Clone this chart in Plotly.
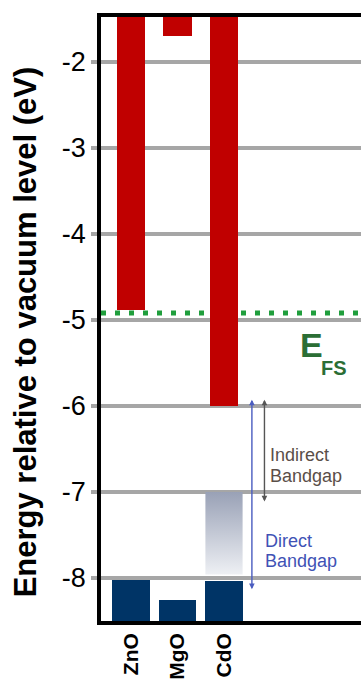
import plotly.graph_objects as go

# Band edges of the three oxides, energies relative to the vacuum level (eV)
materials = ["ZnO", "MgO", "CdO"]
cbm = [-4.88, -1.70, -6.00]          # conduction band minimum
vbm = [-8.02, -8.26, -8.04]          # valence band maximum
cdo_indirect_vbm = -7.00             # CdO valence band top away from Gamma (indirect gap)
cdo_gradient_floor = -7.96           # lower end of the shaded CdO valence region
e_fs = -4.92                         # Fermi stabilisation energy

y_ticks = [-2, -3, -4, -5, -6, -7, -8]
y_tick_labels = [str(v) for v in y_ticks]
y_range = [-8.5, -1.48]

FONT = "Liberation Sans, Arial, Helvetica, sans-serif"
RED = "#c00000"
NAVY = "#003466"
GRID = "#a6a6a6"

xpos = list(range(len(materials)))
BAND_TOP = -1.0      # conduction bars run off the top of the axis
BAND_BOTTOM = -9.0   # valence bars run off the bottom of the axis
RED_W, NAVY_W = 0.62, 0.80

fig = go.Figure()

# Conduction bands
fig.add_trace(go.Bar(
    x=xpos, base=cbm, y=[BAND_TOP - c for c in cbm], width=RED_W,
    marker=dict(color=RED, line=dict(width=0)), hoverinfo="skip", showlegend=False,
))
# Valence bands
fig.add_trace(go.Bar(
    x=xpos, base=[BAND_BOTTOM] * len(vbm), y=[v - BAND_BOTTOM for v in vbm], width=NAVY_W,
    marker=dict(color=NAVY, line=dict(width=0)), hoverinfo="skip", showlegend=False,
))

# Shaded CdO valence region between the indirect and direct band tops
i_cdo = materials.index("CdO")
xc = xpos[i_cdo]
h = NAVY_W / 2
fig.add_trace(go.Scatter(
    x=[xc - h, xc + h, xc + h, xc - h, xc - h],
    y=[cdo_indirect_vbm, cdo_indirect_vbm, cdo_gradient_floor, cdo_gradient_floor, cdo_indirect_vbm],
    mode="lines", line=dict(width=0), fill="toself",
    fillgradient=dict(type="vertical", start=cdo_gradient_floor, stop=cdo_indirect_vbm,
                      colorscale=[[0, "#eef0f4"], [1, "#99a1b6"]]),
    hoverinfo="skip", showlegend=False,
))

# Fermi stabilisation level
fig.add_shape(type="line", xref="paper", x0=0, x1=1, yref="y", y0=e_fs, y1=e_fs,
              line=dict(color="#1f9e3c", width=5, dash="5px,9px"), layer="between")

annotations = []

# Band gap arrows for CdO
over = 0.09
gap_arrows = [
    (xc + 0.60, cbm[i_cdo] + over, vbm[i_cdo] - over, "#4a5cc0"),     # direct
    (xc + 0.87, cbm[i_cdo] + over, cdo_indirect_vbm - 0.11, "#555555"),  # indirect
]
for ax_x, top, bottom, col in gap_arrows:
    annotations.append(dict(
        x=ax_x, y=bottom, ax=ax_x, ay=top, xref="x", yref="y", axref="x", ayref="y",
        text="", showarrow=True, arrowside="end+start",
        arrowhead=2, startarrowhead=2, arrowsize=0.8, startarrowsize=0.8,
        arrowwidth=1.4, arrowcolor=col, standoff=0, startstandoff=0,
    ))

# Gap labels
for txt, y, col in [("Indirect", -6.575, "#5a4e48"), ("Bandgap", -6.81, "#5a4e48")]:
    annotations.append(dict(x=xc + 0.946, y=y, xref="x", yref="y", text=txt, showarrow=False,
                            xanchor="left", yanchor="middle",
                            font=dict(family=FONT, size=18, color=col)))
for txt, y in [("Direct", -7.565, ), ("Bandgap", -7.80)]:
    annotations.append(dict(x=xc + 0.839, y=y, xref="x", yref="y", text=txt, showarrow=False,
                            xanchor="left", yanchor="middle",
                            font=dict(family=FONT, size=18, color="#4052b5")))

# E_FS label
annotations.append(dict(x=xc + 1.89, y=e_fs - 0.37, xref="x", yref="y", text="E",
                        showarrow=False, xanchor="center", yanchor="middle",
                        font=dict(family=FONT, size=34, color="#2b6e35", weight="bold")))
annotations.append(dict(x=xc + 2.36, y=e_fs - 0.635, xref="x", yref="y", text="FS",
                        showarrow=False, xanchor="center", yanchor="middle",
                        font=dict(family=FONT, size=20, color="#2b6e35", weight="bold")))

# Axis title
annotations.append(dict(x=-0.292, y=0.478, xref="paper", yref="paper",
                        text="Energy relative to vacuum level (eV)", textangle=-90,
                        showarrow=False, xanchor="center", yanchor="middle",
                        font=dict(family=FONT, size=31, color="black", weight="bold")))

fig.update_layout(
    width=361, height=684,
    margin=dict(l=101, r=0, t=17, b=63, pad=0),
    paper_bgcolor="white", plot_bgcolor="white",
    barmode="overlay", bargap=0,
    annotations=annotations,
    font=dict(family=FONT, color="black"),
    xaxis=dict(
        range=[-0.645, 4.946], tickvals=xpos, ticktext=materials, tickangle=-90,
        showgrid=False, zeroline=False, showline=True, mirror=True,
        linecolor="black", linewidth=3.5, ticks="", automargin=False,
        tickfont=dict(family=FONT, size=21, color="black", weight="bold"),
    ),
    yaxis=dict(
        range=y_range, tickvals=y_ticks, ticktext=y_tick_labels,
        showgrid=True, gridcolor=GRID, gridwidth=3.5, zeroline=False,
        showline=True, linecolor="black", linewidth=3.5, automargin=False,
        ticks="outside", ticklen=6, tickwidth=3.5, tickcolor=GRID,
        tickfont=dict(family=FONT, size=27, color="black"),
    ),
)

fig.write_html("out.html")
